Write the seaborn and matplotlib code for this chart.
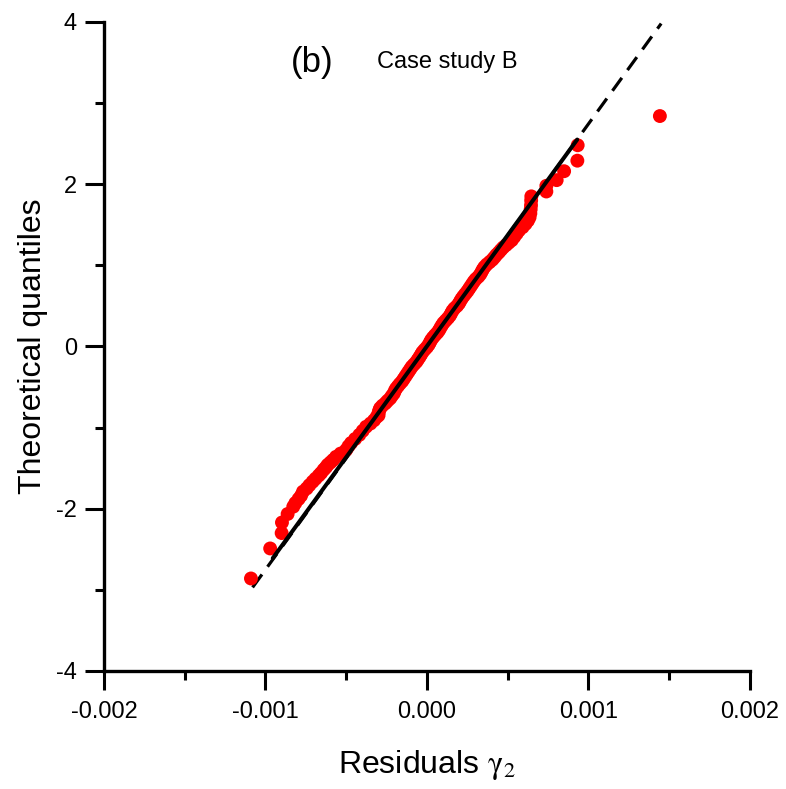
import matplotlib
matplotlib.use("Agg")
import matplotlib.pyplot as plt
import seaborn as sns
import pandas as pd
from matplotlib.ticker import MultipleLocator

# ---- data ----
quantiles = [
    -2.86, -2.49, -2.30, -2.17, -2.065, -1.975, -1.93, -1.88, -1.84, -1.79,
    -1.75, -1.71, -1.667, -1.63, -1.59, -1.56, -1.52, -1.49, -1.46, -1.43,
    -1.40, -1.36, -1.32, -1.276, -1.23, -1.19, -1.14, -1.09, -1.04, -0.99,
    -0.95, -0.91, -0.87, -0.85, -0.82, -0.79, -0.76, -0.73, -0.70, -0.67,
    -0.64, -0.61, -0.58, -0.55, -0.52, -0.49, -0.46, -0.43, -0.40, -0.37,
    -0.34, -0.31, -0.28, -0.25, -0.22, -0.19, -0.16, -0.13, -0.10, -0.07,
    -0.04, -0.01, 0.02, 0.05, 0.08, 0.11, 0.14, 0.17, 0.20, 0.23,
    0.26, 0.29, 0.32, 0.35, 0.38, 0.41, 0.44, 0.47, 0.50, 0.53,
    0.56, 0.59, 0.62, 0.65, 0.68, 0.71, 0.74, 0.77, 0.80, 0.83,
    0.86, 0.89, 0.92, 0.95, 0.98, 1.01, 1.04, 1.07, 1.10, 1.13,
    1.16, 1.19, 1.22, 1.25, 1.28, 1.31, 1.35, 1.39, 1.43, 1.47,
    1.51, 1.55, 1.59, 1.64, 1.69, 1.74, 1.80, 1.85, 1.91, 1.98,
    2.05, 2.16, 2.29, 2.48, 2.84,
]
residuals = [
    -0.001090, -0.000971, -0.000900, -0.000898, -0.000863, -0.000828, -0.000815, -0.000795, -0.000780, -0.000768,
    -0.000745, -0.000728, -0.000708, -0.000690, -0.000670, -0.000656, -0.000640, -0.000626, -0.000615, -0.000598,
    -0.000582, -0.000563, -0.000535, -0.000501, -0.000486, -0.000470, -0.000445, -0.000419, -0.000398, -0.000377,
    -0.000350, -0.000328, -0.000312, -0.000300, -0.000300, -0.000296, -0.000290, -0.000276, -0.000258, -0.000244,
    -0.000228, -0.000218, -0.000206, -0.000200, -0.000192, -0.000180, -0.000168, -0.000154, -0.000144, -0.000134,
    -0.000124, -0.000114, -0.000104, -0.000094, -0.000080, -0.000066, -0.000056, -0.000046, -0.000037, -0.000028,
    -0.000015, -0.000001, 0.000010, 0.000018, 0.000026, 0.000037, 0.000050, 0.000064, 0.000075, 0.000083,
    0.000092, 0.000102, 0.000116, 0.000130, 0.000142, 0.000150, 0.000158, 0.000170, 0.000186, 0.000198,
    0.000206, 0.000215, 0.000226, 0.000238, 0.000250, 0.000260, 0.000270, 0.000280, 0.000290, 0.000302,
    0.000318, 0.000330, 0.000338, 0.000346, 0.000356, 0.000370, 0.000388, 0.000405, 0.000418, 0.000430,
    0.000445, 0.000458, 0.000472, 0.000490, 0.000507, 0.000525, 0.000540, 0.000555, 0.000570, 0.000592,
    0.000610, 0.000625, 0.000635, 0.000640, 0.000642, 0.000644, 0.000645, 0.000646, 0.000739, 0.000739,
    0.000803, 0.000849, 0.000931, 0.000933, 0.001442,
]

# reference (fitted) line: dashed full extent and solid central part
dashed_x = [-0.00108, 0.00145]
dashed_y = [-2.97, 3.98]
solid_x = [-0.000955, 0.00093]
solid_y = [-2.61, 2.55]

x_ticks = [-0.002, -0.001, 0.000, 0.001, 0.002]
x_tick_labels = ["-0.002", "-0.001", "0.000", "0.001", "0.002"]
y_ticks = [-4, -2, 0, 2, 4]
y_tick_labels = ["-4", "-2", "0", "2", "4"]

# ---- styling ----
sns.set_style("ticks")
plt.rcParams["font.family"] = ["Liberation Sans", "DejaVu Sans"]
plt.rcParams["mathtext.fontset"] = "stix"
plt.rcParams["text.color"] = "black"
plt.rcParams["axes.labelcolor"] = "black"

fig = plt.figure(figsize=(7.86, 7.89), dpi=100)
ax = fig.add_axes([0.1323, 0.1496, 0.8219, 0.8226])

df = pd.DataFrame({"res": residuals, "q": quantiles})
dashed_df = pd.DataFrame({"x": dashed_x, "y": dashed_y})
solid_df = pd.DataFrame({"x": solid_x, "y": solid_y})

sns.lineplot(data=dashed_df, x="x", y="y", ax=ax, color="black", lw=2.3,
             linestyle=(0, (5, 3)), zorder=2, sort=False)
sns.scatterplot(data=df, x="res", y="q", ax=ax, color="#ff0000", s=100,
                edgecolor="none", linewidth=0, zorder=3)
sns.lineplot(data=solid_df, x="x", y="y", ax=ax, color="black", lw=2.9,
             zorder=4, sort=False)

ax.set_xlim(-0.002, 0.002)
ax.set_ylim(-4, 4)
ax.set_xticks(x_ticks)
ax.set_xticklabels(x_tick_labels)
ax.set_yticks(y_ticks)
ax.set_yticklabels(y_tick_labels)
ax.xaxis.set_minor_locator(MultipleLocator(0.0005))
ax.yaxis.set_minor_locator(MultipleLocator(1))

for side in ["top", "right"]:
    ax.spines[side].set_visible(False)
for side in ["left", "bottom"]:
    ax.spines[side].set_linewidth(2.4)
    ax.spines[side].set_color("black")

ax.tick_params(which="major", direction="out", length=13.5, width=2.2,
               labelsize=17, colors="black", pad=6)
ax.tick_params(which="minor", direction="out", length=6.5, width=2.2,
               colors="black")
ax.tick_params(axis="x", which="major", pad=8)

ax.set_xlabel(r"Residuals $\mathrm{\gamma}_{2}$", fontsize=23, labelpad=18,
              color="black")
ax.set_ylabel("Theoretical quantiles", fontsize=23, labelpad=6,
              color="black")

ax.text(0.322, 0.938, "(b)", transform=ax.transAxes, fontsize=25,
        ha="center", va="center", color="black")
ax.text(0.4226, 0.938, "Case study B", transform=ax.transAxes, fontsize=17,
        ha="left", va="center", color="black")

fig.savefig("out.png", dpi=100)
